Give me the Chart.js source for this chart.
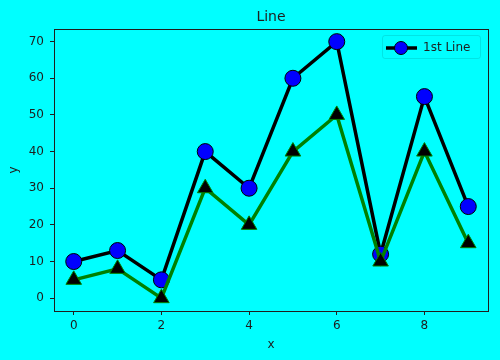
<!DOCTYPE html>
<html>
<head>
<meta charset="utf-8">
<script src="https://cdn.jsdelivr.net/npm/chart.js@4.4.0/dist/chart.umd.min.js"></script>
<style>
  html, body { margin: 0; padding: 0; background: #00ffff; }
  #wrap { position: relative; width: 500px; height: 360px; }
  #legend {
    position: absolute; left: 382px; top: 35px; width: 99px; height: 24px;
    box-sizing: border-box; border: 1px solid rgba(0,0,0,0.1); border-radius: 3px;
    font: 12px "DejaVu Sans", sans-serif; color: #1e1e1e;
  }
  #legend canvas { position: absolute; left: 3px; top: 4px; }
  #legend span { position: absolute; left: 40px; top: 4px; line-height: 14px; white-space: nowrap; }
</style>
</head>
<body>
<div id="wrap">
  <canvas id="c" width="500" height="360"></canvas>
  <div id="legend"><canvas id="icon" width="31" height="16"></canvas><span id="legend-text"></span></div>
</div>
<script>
// data
const xValues = [0, 1, 2, 3, 4, 5, 6, 7, 8, 9];
const firstLine = [10, 13, 5, 40, 30, 60, 70, 12, 55, 25];
const secondLine = [5, 8, 0, 30, 20, 40, 50, 10, 40, 15];
const xTicks = [0, 2, 4, 6, 8];
const yTicks = [0, 10, 20, 30, 40, 50, 60, 70];
const legendLabel = '1st Line';

const INK = '#1e1e1e';
const FONT = 'DejaVu Sans';

// legend: only the first series is listed, like the original
document.getElementById('legend-text').textContent = legendLabel;
(() => {
  const g = document.getElementById('icon').getContext('2d');
  g.strokeStyle = '#000'; g.lineWidth = 3.5;
  g.beginPath(); g.moveTo(0, 8); g.lineTo(31, 8); g.stroke();
  g.fillStyle = '#0000ff'; g.lineWidth = 1;
  g.beginPath(); g.arc(15, 8, 6.5, 0, Math.PI * 2); g.fill(); g.stroke();
})();

// matplotlib style box round the axes
const framePlugin = {
  id: 'frame',
  afterDraw(chart) {
    const { ctx, chartArea: a } = chart;
    ctx.save();
    ctx.strokeStyle = INK;
    ctx.lineWidth = 1;
    ctx.strokeRect(Math.round(a.left) + 0.5, Math.round(a.top) + 0.5,
      Math.round(a.right - a.left), Math.round(a.bottom - a.top));
    ctx.restore();
  }
};

new Chart(document.getElementById('c'), {
  type: 'line',
  data: {
    datasets: [
      {
        label: legendLabel,
        data: xValues.map((x, i) => ({ x, y: firstLine[i] })),
        borderColor: '#000000',
        borderWidth: 3.5,
        pointStyle: 'circle',
        pointRadius: 8,
        pointBackgroundColor: '#0000ff',
        pointBorderColor: '#000000',
        pointBorderWidth: 1,
        tension: 0,
        clip: false,
      },
      {
        label: '2nd Line',
        data: xValues.map((x, i) => ({ x, y: secondLine[i] })),
        borderColor: '#008000',
        borderWidth: 3.5,
        pointStyle: 'triangle',
        pointRadius: 9,
        pointBackgroundColor: '#000000',
        pointBorderColor: '#008000',
        pointBorderWidth: 1,
        tension: 0,
        clip: false,
        order: -1,   // drawn on top, as in the original
      }
    ]
  },
  options: {
    responsive: false,
    animation: false,
    events: [],
    layout: { padding: { left: 0, right: 12, top: 0, bottom: 0 } },
    plugins: {
      title: {
        display: true,
        text: 'Line',
        fullSize: false,
        color: INK,
        font: { family: FONT, size: 14, weight: 'normal' },
        padding: { top: 9, bottom: 3 },
      },
      legend: { display: false },
      tooltip: { enabled: false },
    },
    scales: {
      x: {
        type: 'linear',
        min: -0.45,
        max: 9.45,
        afterBuildTicks: s => { s.ticks = xTicks.map(v => ({ value: v })); },
        afterFit: s => { s.height = 49; },
        ticks: { color: INK, font: { family: FONT, size: 12 }, padding: 4, includeBounds: false },
        grid: { drawOnChartArea: false, tickLength: 4, tickColor: INK },
        border: { display: false },
        title: { display: true, text: 'x', color: INK, font: { family: FONT, size: 12 }, padding: { top: 4, bottom: 8 } },
      },
      y: {
        min: -3.5,
        max: 73.5,
        afterBuildTicks: s => { s.ticks = yTicks.map(v => ({ value: v })); },
        afterFit: s => { s.width = 54; },
        ticks: { color: INK, font: { family: FONT, size: 12 }, padding: 6, includeBounds: false },
        grid: { drawOnChartArea: false, tickLength: 4, tickColor: INK },
        border: { display: false },
        title: { display: true, text: 'y', color: INK, font: { family: FONT, size: 12 }, padding: { top: 7, bottom: 4 } },
      }
    }
  },
  plugins: [framePlugin]
});
</script>
</body>
</html>
